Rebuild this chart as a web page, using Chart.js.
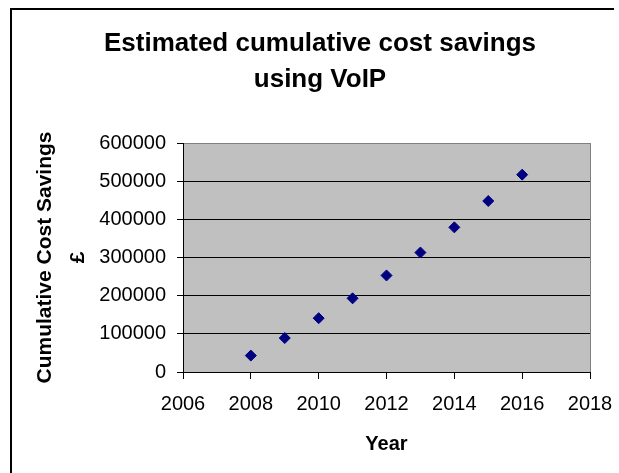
<!DOCTYPE html>
<html>
<head>
<meta charset="utf-8">
<script src="https://cdn.jsdelivr.net/npm/chart.js@4/dist/chart.umd.min.js"></script>
<style>
    html, body { margin: 0; padding: 0; background: #fff; overflow: hidden; }
    #chart { display: block; }
</style>
</head>
<body>
<canvas id="chart" width="619" height="473"></canvas>
<script>
// data
var years = [2008, 2009, 2010, 2011, 2012, 2013, 2014, 2015, 2016];
var savings = [43000, 89000, 141000, 193000, 253000, 313000, 379000, 448000, 517000];
var titleLines = ['Estimated cumulative cost savings', 'using VoIP'];
var yTitle = ['Cumulative Cost Savings', '£'];
var xTitle = 'Year';

var fontFamily = '"Liberation Sans", Arial, sans-serif';

// grey plot area, outer frame and the chart title
var framePlugin = {
    id: 'frame',
    beforeDraw: function(chart) {
        var ctx = chart.ctx;
        var a = chart.chartArea;
        ctx.save();
        ctx.fillStyle = '#fff';
        ctx.fillRect(0, 0, chart.width, chart.height);
        ctx.fillStyle = '#c0c0c0';
        ctx.fillRect(a.left, a.top, a.right - a.left, a.bottom - a.top);
        ctx.strokeStyle = '#808080';
        ctx.lineWidth = 1;
        ctx.strokeRect(a.left + 0.5, a.top + 0.5, a.right - a.left, a.bottom - a.top);
        ctx.restore();
    },
    afterDraw: function(chart) {
        var ctx = chart.ctx;
        ctx.save();
        ctx.strokeStyle = '#000';
        ctx.lineWidth = 2;
        ctx.beginPath();
        ctx.moveTo(614, 9);
        ctx.lineTo(11, 9);
        ctx.lineTo(11, chart.height + 5);
        ctx.stroke();
        ctx.fillStyle = '#000';
        ctx.font = 'bold 26px ' + fontFamily;
        ctx.textAlign = 'center';
        ctx.textBaseline = 'alphabetic';
        ctx.fillText(titleLines[0], 320, 51);
        ctx.fillText(titleLines[1], 320, 87);
        ctx.restore();
    }
};

var points = [];
for (var i = 0; i < years.length; i++) {
    points.push({ x: years[i], y: savings[i] });
}

var ctx = document.getElementById('chart').getContext('2d');
var myChart = new Chart(ctx, {
    type: 'scatter',
    data: {
        datasets: [{
            label: 'Savings',
            data: points,
            pointStyle: 'rectRot',
            radius: 5.5,
            hoverRadius: 5.5,
            backgroundColor: '#000080',
            borderColor: '#000080',
            borderWidth: 1
        }]
    },
    options: {
        responsive: false,
        animation: false,
        devicePixelRatio: 1,
        layout: {
            padding: { left: 29, right: 29, top: 143, bottom: 0 }
        },
        plugins: {
            legend: { display: false },
            tooltip: { enabled: false }
        },
        scales: {
            x: {
                type: 'linear',
                min: 2006,
                max: 2018,
                afterFit: function(scale) {
                    scale.height = 101;
                    scale.paddingLeft = 0;
                    scale.paddingRight = 0;
                },
                ticks: {
                    stepSize: 2,
                    color: '#000',
                    padding: 13,
                    font: { family: fontFamily, size: 20 },
                    callback: function(v) { return String(v); }
                },
                grid: {
                    drawOnChartArea: false,
                    color: '#000',
                    tickLength: 7
                },
                border: { color: '#000', width: 1 },
                title: {
                    display: true,
                    text: xTitle,
                    color: '#000',
                    font: { family: fontFamily, size: 20, weight: 'bold' },
                    padding: { top: 0, bottom: 17 }
                }
            },
            y: {
                min: 0,
                max: 600000,
                afterFit: function(scale) {
                    scale.width = 154;
                    scale.paddingTop = 0;
                    scale.paddingBottom = 0;
                },
                ticks: {
                    stepSize: 100000,
                    color: '#000',
                    padding: 11,
                    font: { family: fontFamily, size: 20 },
                    callback: function(v) { return String(v); }
                },
                grid: {
                    color: function(c) { return c.tick && c.tick.value === 600000 ? '#808080' : '#000'; },
                    tickColor: '#000',
                    tickLength: 6
                },
                border: { color: '#000', width: 1 },
                title: {
                    display: true,
                    text: yTitle,
                    color: '#000',
                    font: { family: fontFamily, size: 21, weight: 'bold', lineHeight: 1.55 },
                    padding: 0
                }
            }
        }
    },
    plugins: [framePlugin]
});
</script>
</body>
</html>
